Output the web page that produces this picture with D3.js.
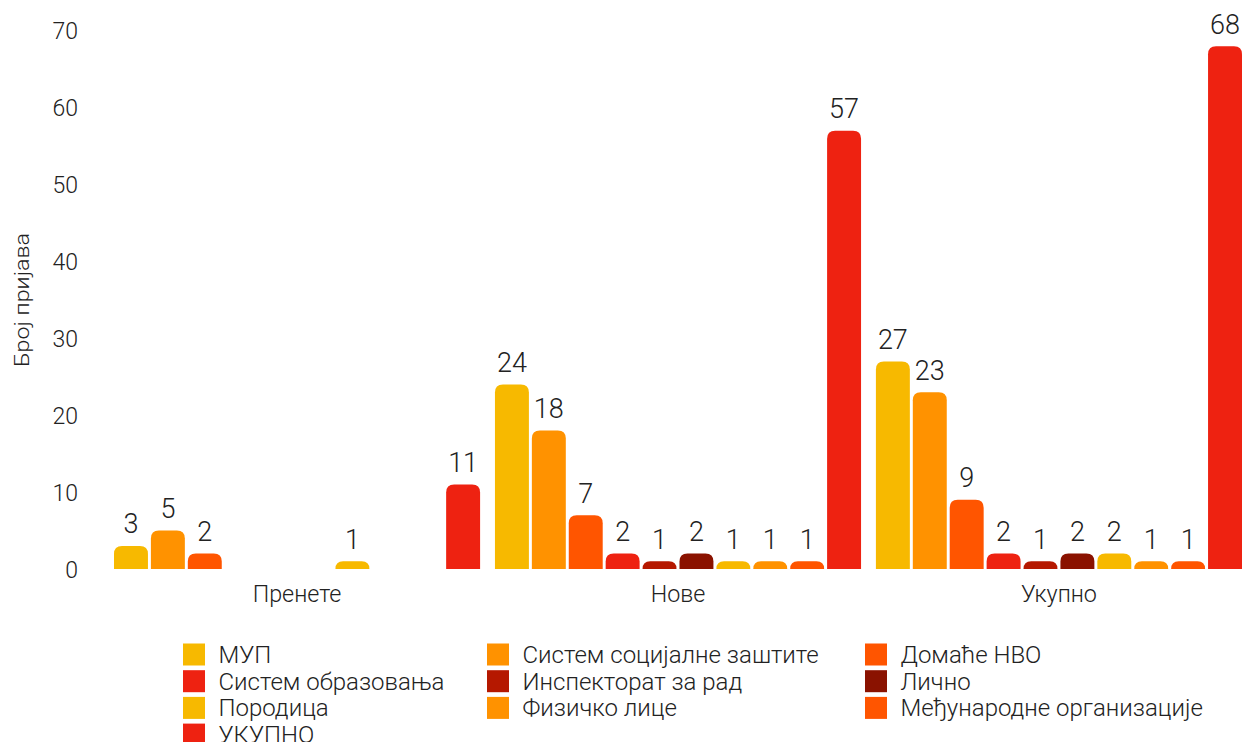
<!DOCTYPE html>
<html>
<head>
<meta charset="utf-8">
<script src="https://cdn.jsdelivr.net/npm/d3@7"></script>
<style>
  html, body { margin: 0; padding: 0; background: #fff; }
  svg { display: block; font-family: Roboto, "Noto Sans", sans-serif; font-weight: 300; }
</style>
</head>
<body>
<svg id="chart" width="1242" height="742"></svg>
<script>
const categories = ["Пренете", "Нове", "Укупно"];
const seriesNames = ["МУП", "Систем социјалне заштите", "Домаће НВО", "Систем образовања",
  "Инспекторат за рад", "Лично", "Породица", "Физичко лице", "Међународне организације", "УКУПНО"];
const seriesColors = ["#F7B900", "#FF9200", "#FF5500", "#EE2211", "#B51800", "#8A1200",
  "#F7B900", "#FF9200", "#FF5500", "#EE2211"];
// values per series, in category order [Пренете, Нове, Укупно]
const valMUP = [3, 24, 27];
const valSocial = [5, 18, 23];
const valNGO = [2, 7, 9];
const valEdu = [0, 2, 2];
const valLabour = [0, 1, 1];
const valPersonal = [0, 2, 2];
const valFamily = [1, 1, 2];
const valPhysical = [0, 1, 1];
const valIntl = [0, 1, 1];
const valTotal = [11, 57, 68];
const seriesValues = [valMUP, valSocial, valNGO, valEdu, valLabour, valPersonal, valFamily, valPhysical, valIntl, valTotal];
const yTicks = [0, 10, 20, 30, 40, 50, 60, 70];
const yTitle = "Број пријава";

const svg = d3.select("#chart");
const textColor = "#222";

const x0 = d3.scaleBand().domain(categories).range([114, 1242]).paddingInner(0.039).paddingOuter(0);
const x1 = d3.scaleBand().domain(d3.range(seriesNames.length)).range([0, x0.bandwidth()]).paddingInner(0.08).paddingOuter(0);
const y = d3.scaleLinear().domain([0, 70]).range([569, 30.8]);

// y axis labels
const yAxis = d3.axisLeft(y).tickValues(yTicks).tickSize(0).tickPadding(0);
const gy = svg.append("g").attr("transform", "translate(78,0)").call(yAxis);
gy.select(".domain").remove();
gy.selectAll("text").attr("font-size", 23).attr("font-family", "Roboto").attr("font-weight", 300)
  .attr("fill", textColor).attr("dy", "0.35em");

// y title
svg.append("text")
  .attr("transform", "translate(29,300) rotate(-90)")
  .attr("text-anchor", "middle")
  .attr("font-size", 21)
  .attr("textLength", 134)
  .attr("lengthAdjust", "spacingAndGlyphs")
  .attr("fill", textColor)
  .text(yTitle);

// x axis labels
const xAxis = d3.axisBottom(x0).tickSize(0).tickPadding(0);
const gx = svg.append("g").attr("transform", "translate(0,601.5)").call(xAxis);
gx.select(".domain").remove();
gx.selectAll("text").attr("font-size", 23.3).attr("font-family", "Roboto").attr("font-weight", 300)
  .attr("fill", textColor).attr("dy", 0);

function topRounded(x, yTop, w, yBase, r) {
  const h = yBase - yTop;
  r = Math.min(r, h, w / 2);
  return `M${x},${yBase}V${yTop + r}Q${x},${yTop} ${x + r},${yTop}H${x + w - r}Q${x + w},${yTop} ${x + w},${yTop + r}V${yBase}Z`;
}

const bars = [];
categories.forEach((c, ci) => {
  seriesNames.forEach((s, si) => {
    bars.push({ cat: c, si, v: seriesValues[si][ci] });
  });
});

const g = svg.append("g");
g.selectAll("path.bar").data(bars.filter(d => d.v > 0)).join("path")
  .attr("class", "bar")
  .attr("fill", d => seriesColors[d.si])
  .attr("d", d => topRounded(x0(d.cat) + x1(d.si), y(d.v), x1.bandwidth(), y(0), 8));

g.selectAll("text.val").data(bars.filter(d => d.v > 0)).join("text")
  .attr("class", "val")
  .attr("x", d => x0(d.cat) + x1(d.si) + x1.bandwidth() / 2)
  .attr("y", d => y(d.v) - 12.5)
  .attr("text-anchor", "middle")
  .attr("font-size", 27)
  .attr("fill", textColor)
  .text(d => d.v);

// legend
const legendCols = [183, 487, 865];
const legendRowY = 643.5, rowStep = 26.7, sw = 22;
const lg = svg.append("g");
seriesNames.forEach((name, i) => {
  const col = i % 3, row = Math.floor(i / 3);
  const gx_ = legendCols[col], gy_ = legendRowY + row * rowStep;
  lg.append("rect").attr("x", gx_).attr("y", gy_).attr("width", sw).attr("height", sw).attr("fill", seriesColors[i]);
  lg.append("text").attr("x", gx_ + 35.5).attr("y", gy_ + 19.3)
    .attr("font-size", 24).attr("fill", textColor).text(name);
});
</script>
</body>
</html>
